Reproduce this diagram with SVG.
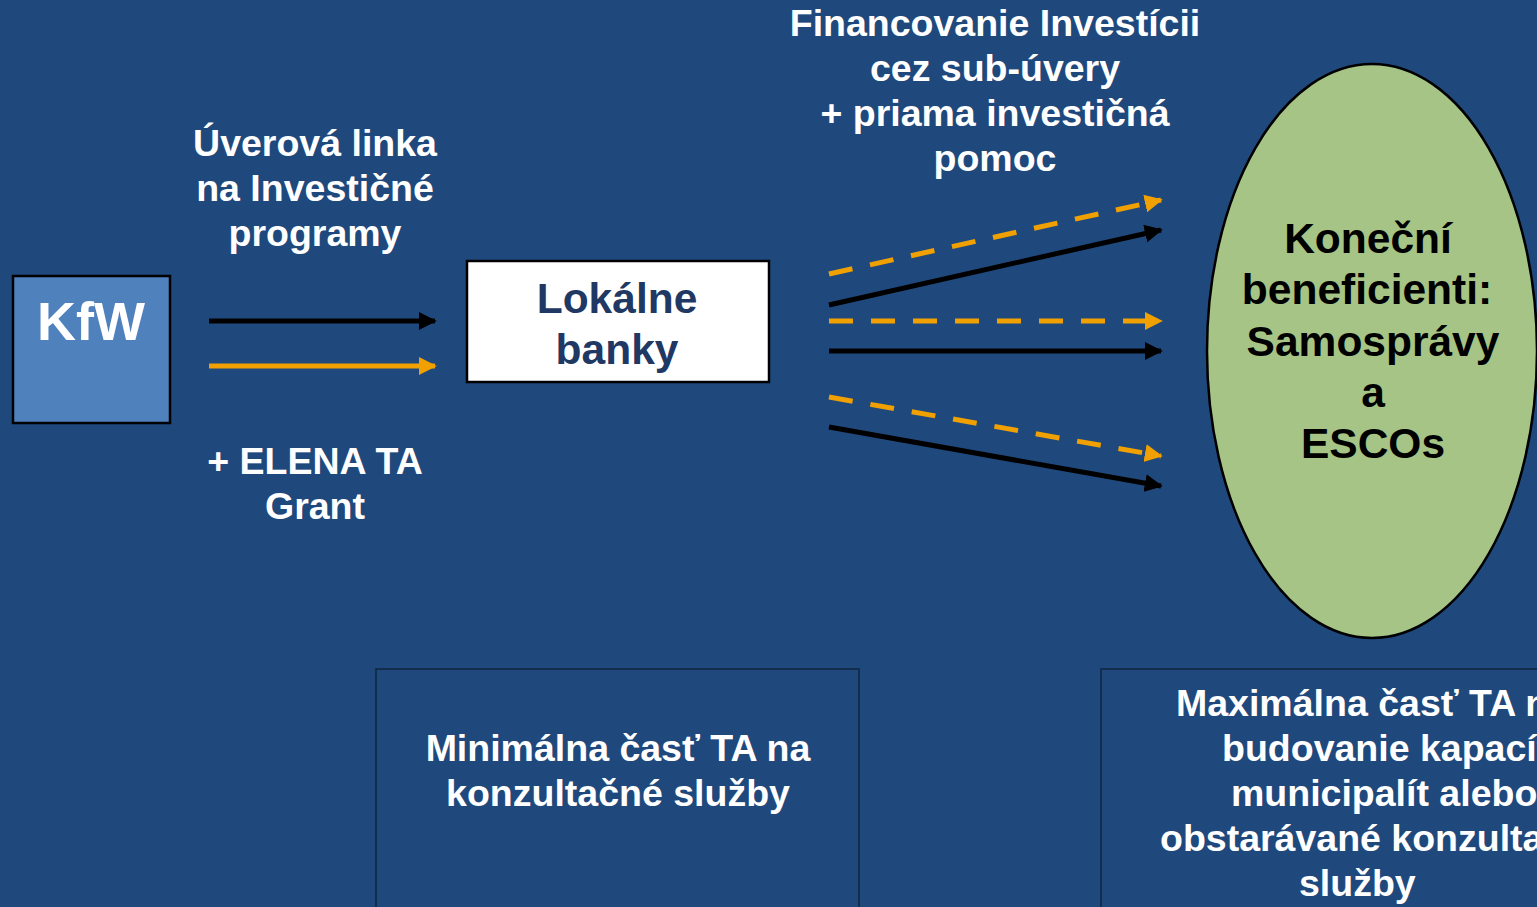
<svg xmlns="http://www.w3.org/2000/svg" width="1537" height="907" viewBox="0 0 1537 907">
<style>
text{font-family:"Liberation Sans",Arial,sans-serif;font-weight:bold;text-anchor:middle}
.w{fill:#ffffff;font-size:37.5px}
.s{text-anchor:start}
.k{fill:#000000;font-size:42.5px}
.b{fill:#1F3864;font-size:42.5px}
.blk{stroke:#000000;stroke-width:5;fill:none}
.org{stroke:#F0A000;stroke-width:5;fill:none}
.dash{stroke-dasharray:24 18}
.tbox{fill:none;stroke:#0F243E;stroke-width:1.5}
</style>
<defs>
<marker id="ab" viewBox="0 0 10 10" refX="9" refY="5" markerWidth="18" markerHeight="18" markerUnits="userSpaceOnUse" orient="auto"><path d="M0,0 L10,5 L0,10 z" fill="#000000"/></marker>
<marker id="ao" viewBox="0 0 10 10" refX="9" refY="5" markerWidth="18" markerHeight="18" markerUnits="userSpaceOnUse" orient="auto"><path d="M0,0 L10,5 L0,10 z" fill="#F0A000"/></marker>
</defs>
<rect x="0" y="0" width="1537" height="907" fill="#1F497D"/>
<g id="connectors">
<line class="blk" x1="209" y1="321" x2="435" y2="321" marker-end="url(#ab)"/>
<line class="org" x1="209" y1="366" x2="435" y2="366" marker-end="url(#ao)"/>
<line class="org dash" x1="829" y1="274" x2="1161" y2="200" marker-end="url(#ao)"/>
<line class="blk" x1="829" y1="305" x2="1161" y2="230" marker-end="url(#ab)"/>
<line class="org dash" x1="829" y1="321" x2="1161" y2="321" marker-end="url(#ao)"/>
<line class="blk" x1="829" y1="351" x2="1161" y2="351" marker-end="url(#ab)"/>
<line class="org dash" x1="829" y1="397" x2="1161" y2="456" marker-end="url(#ao)"/>
<line class="blk" x1="829" y1="427" x2="1161" y2="486" marker-end="url(#ab)"/>
</g>
<g id="kfw">
<rect x="13" y="276" width="157" height="147" fill="#4F81BD" stroke="#000000" stroke-width="2.5"/>
<text x="91" y="340" style="fill:#ffffff;font-size:54px">KfW</text>
</g>
<g id="banky">
<rect x="467" y="261" width="302" height="121" fill="#ffffff" stroke="#000000" stroke-width="2.5"/>
<text class="b" x="617" y="313">Lokálne</text>
<text class="b" x="617" y="364">banky</text>
</g>
<g id="beneficienti">
<ellipse cx="1372" cy="351" rx="165" ry="287" fill="#A5C485" stroke="#000000" stroke-width="2.5"/>
<text class="k" x="1368" y="253">Koneční</text>
<text class="k" x="1367" y="304">beneficienti:</text>
<text class="k" x="1373" y="356">Samosprávy</text>
<text class="k" x="1373" y="407">a</text>
<text class="k" x="1373" y="458">ESCOs</text>
</g>
<g id="label-uver">
<text class="w" x="315" y="156">Úverová linka</text>
<text class="w" x="315" y="201">na Investičné</text>
<text class="w" x="315" y="246">programy</text>
</g>
<g id="label-elena">
<text class="w" x="315" y="474">+ ELENA TA</text>
<text class="w" x="315" y="519">Grant</text>
</g>
<g id="label-financovanie">
<text class="w" x="995" y="36">Financovanie Investícii</text>
<text class="w" x="995" y="81">cez sub-úvery</text>
<text class="w" x="995" y="126">+ priama investičná</text>
<text class="w" x="995" y="171">pomoc</text>
</g>
<g id="box-min">
<rect class="tbox" x="376" y="669" width="483" height="260"/>
<text class="w" x="618" y="761">Minimálna časť TA na</text>
<text class="w" x="618" y="806">konzultačné služby</text>
</g>
<g id="box-max">
<rect class="tbox" x="1101" y="669" width="484" height="260"/>
<text class="w s" x="1176" y="716">Maximálna časť TA na</text>
<text class="w s" x="1222" y="761">budovanie kapacít</text>
<text class="w s" x="1231" y="806">municipalít alebo</text>
<text class="w s" x="1160" y="851">obstarávané konzultačné</text>
<text class="w s" x="1299" y="896">služby</text>
</g>
</svg>
